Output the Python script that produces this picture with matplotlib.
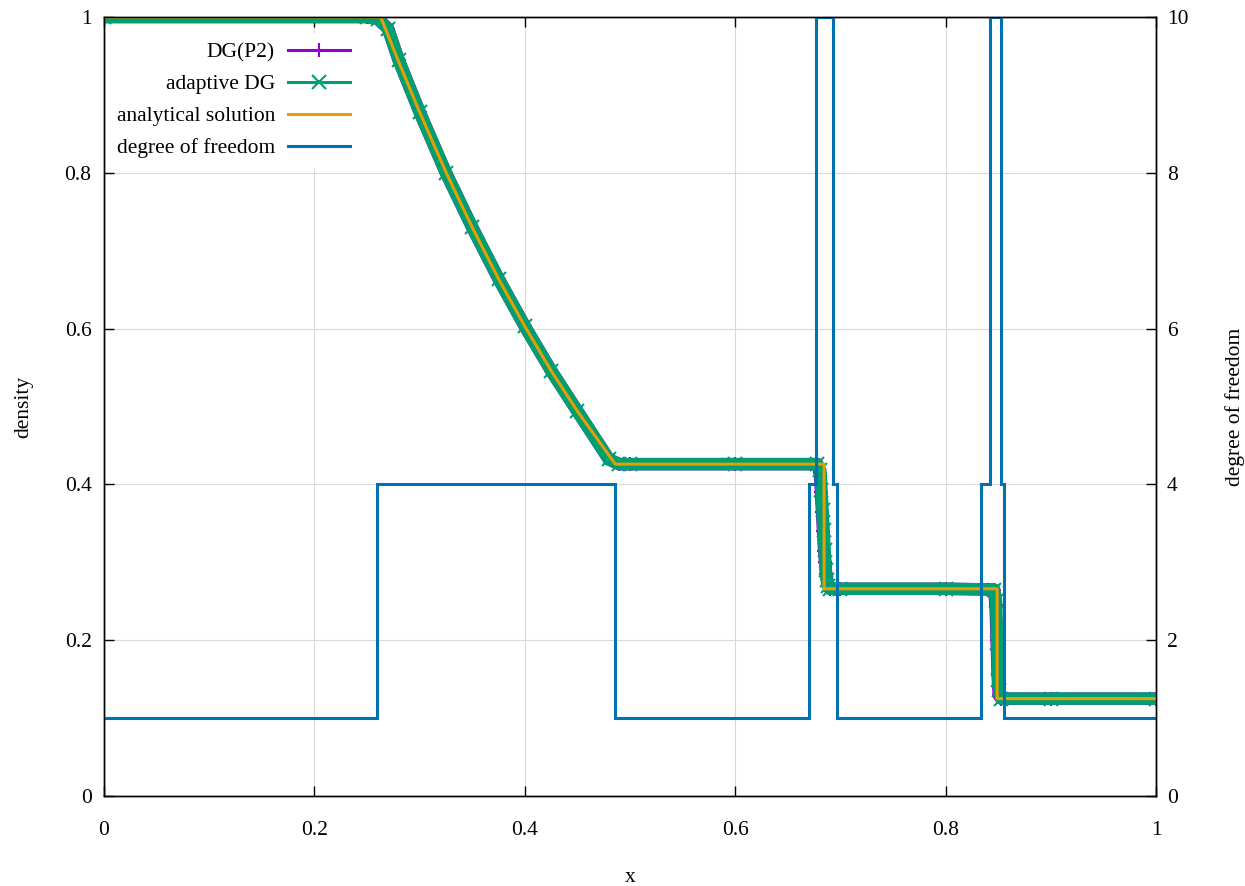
import matplotlib

matplotlib.use("Agg")
import matplotlib.pyplot as plt
from matplotlib.lines import Line2D

plt.rcParams["font.family"] = "serif"
plt.rcParams["font.serif"] = ["Liberation Serif", "DejaVu Serif"]
plt.rcParams["font.size"] = 15.5

# Sod shock tube, density at t = 0.2
x_exact = [0.0, 0.263, 0.28, 0.30, 0.325, 0.35, 0.375, 0.40, 0.425, 0.45, 0.486,
           0.6845, 0.6845, 0.849, 0.849, 1.0]
rho_exact = [1.0, 1.0, 0.943, 0.878, 0.801, 0.730, 0.664, 0.603, 0.546, 0.494, 0.426,
             0.426, 0.266, 0.266, 0.125, 0.125]

x_p2 = [0.0, 0.25, 0.26, 0.27, 0.28, 0.30, 0.325, 0.35, 0.375, 0.40, 0.425, 0.45,
        0.48, 0.49, 0.50, 0.60, 0.678, 0.6805, 0.6815, 0.6825, 0.6835, 0.6845, 0.6855,
        0.6865, 0.688, 0.690, 0.70, 0.80, 0.846, 0.8475, 0.8485, 0.8495, 0.8505, 0.853,
        0.90, 1.0]
rho_p2 = [1.0, 1.0, 0.998, 0.985, 0.945, 0.878, 0.800, 0.730, 0.664, 0.603, 0.546, 0.494,
          0.432, 0.426, 0.426, 0.426, 0.426, 0.415, 0.39, 0.365, 0.34, 0.315, 0.30,
          0.285, 0.272, 0.266, 0.266, 0.266, 0.265, 0.245, 0.20, 0.155, 0.13, 0.125,
          0.125, 0.125]

x_adapt = [0.0, 0.25, 0.26, 0.27, 0.28, 0.30, 0.325, 0.35, 0.375, 0.40, 0.425, 0.45,
           0.48, 0.49, 0.50, 0.60, 0.678, 0.681, 0.682, 0.683, 0.684, 0.685, 0.686,
           0.687, 0.688, 0.690, 0.70, 0.80, 0.846, 0.848, 0.849, 0.850, 0.851, 0.853,
           0.90, 1.0]
rho_adapt = [1.0, 1.0, 0.998, 0.985, 0.945, 0.878, 0.800, 0.730, 0.664, 0.603, 0.546, 0.494,
             0.432, 0.426, 0.426, 0.426, 0.426, 0.418, 0.393, 0.367, 0.341, 0.316, 0.29,
             0.277, 0.270, 0.266, 0.266, 0.266, 0.265, 0.25, 0.196, 0.149, 0.136, 0.125,
             0.125, 0.125]

# degrees of freedom per cell on the adaptive mesh
dof_edges = [0.0, 0.2595, 0.4857, 0.6701, 0.6768, 0.6930, 0.6968, 0.8340, 0.8423,
             0.8523, 0.8555, 1.0]
dof_values = [1, 4, 1, 4, 10, 4, 1, 4, 10, 4, 1]

x_ticks = [0, 0.2, 0.4, 0.6, 0.8, 1]
x_tick_labels = ["0", "0.2", "0.4", "0.6", "0.8", "1"]
y_ticks = [0, 0.2, 0.4, 0.6, 0.8, 1]
y_tick_labels = ["0", "0.2", "0.4", "0.6", "0.8", "1"]
y2_ticks = [0, 2, 4, 6, 8, 10]

purple = "#9400d3"
green = "#009e73"
orange = "#e69f00"
blue = "#0072b2"

fig = plt.figure(figsize=(12.45, 8.86), dpi=100)
ax = fig.add_axes([104 / 1245, 1 - 796 / 886, 1052 / 1245, 779 / 886])
ax2 = ax.twinx()

ax.plot(x_p2, rho_p2, color=purple, lw=9, marker="+", ms=10, mew=1.5,
        solid_joinstyle="round", zorder=2)
ax.plot(x_adapt, rho_adapt, color=green, lw=9, marker="x", ms=10, mew=1.5,
        solid_joinstyle="round", zorder=3)
ax.plot(x_exact, rho_exact, color=orange, lw=2.2, zorder=4)
ax2.stairs(dof_values, dof_edges, baseline=None, color=blue, lw=2.2)

ax.set_xlim(0, 1)
ax.set_ylim(0, 1)
ax2.set_ylim(0, 10)

ax.set_xticks(x_ticks, x_tick_labels)
ax.set_yticks(y_ticks, y_tick_labels)
ax2.set_yticks(y2_ticks, [str(v) for v in y2_ticks])

ax.grid(True, color="#d9d9d9", lw=0.8, zorder=0)
ax.set_axisbelow(True)
ax.tick_params(axis="x", direction="in", length=7, width=1, top=True, pad=18)
ax.tick_params(axis="y", direction="in", length=7, width=1, right=False, pad=9)
ax2.tick_params(axis="y", direction="in", length=7, width=1, pad=8)
for a in (ax, ax2):
    for s in a.spines.values():
        s.set_linewidth(1)

ax.set_xlabel("x")
ax.set_ylabel("density")
ax2.set_ylabel("degree of freedom")
ax.xaxis.set_label_coords(0.5, -0.093)
ax.yaxis.set_label_coords(-0.0675, 0.5)
ax2.yaxis.set_label_coords(1.066, 0.5)

handles = [
    Line2D([], [], color=purple, lw=2.2, marker="+", ms=10, mew=1.5),
    Line2D([], [], color=green, lw=2.2, marker="x", ms=10, mew=1.5),
    Line2D([], [], color=orange, lw=2.2),
    Line2D([], [], color=blue, lw=2.2),
]
labels = ["DG(P2)", "adaptive DG", "analytical solution", "degree of freedom"]
leg = ax2.legend(handles, labels, loc="upper right", bbox_to_anchor=(0.2433, 0.98),
                 markerfirst=False, frameon=True, fancybox=False, framealpha=1,
                 facecolor="white", edgecolor="none", handlelength=2.9,
                 handletextpad=0.6, labelspacing=0.55, borderaxespad=0, borderpad=0.45)

fig.savefig("out.png", dpi=100)
